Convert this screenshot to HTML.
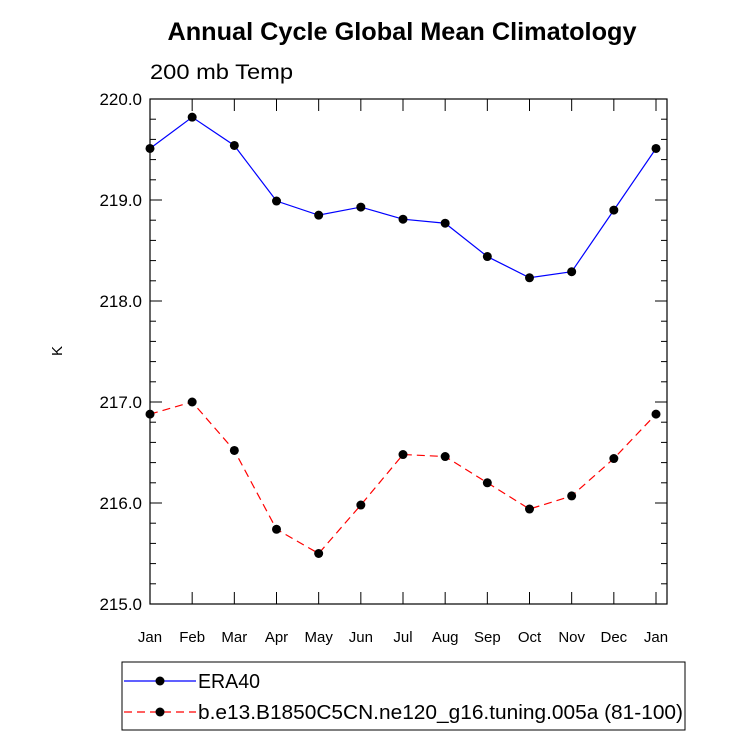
<!DOCTYPE html>
<html><head><meta charset="utf-8"><style>body{margin:0;background:#fff}svg{display:block}text{font-family:"Liberation Sans",sans-serif}</style></head>
<body>
<svg id="c" width="733" height="737"></svg>
<script>
const months=["Jan","Feb","Mar","Apr","May","Jun","Jul","Aug","Sep","Oct","Nov","Dec","Jan"];
const era40=[219.51,219.82,219.54,218.99,218.85,218.93,218.81,218.77,218.44,218.23,218.29,218.90,219.51];
const model=[216.88,217.00,216.52,215.74,215.50,215.98,216.48,216.46,216.20,215.94,216.07,216.44,216.88];
const yTicks=["215.0","216.0","217.0","218.0","219.0","220.0"];
const NS="http://www.w3.org/2000/svg",svg=document.getElementById('c');
const L=150,R=667,T=99,B=604,X0=150,X1=656,yMin=215,yMax=220;
const xs=i=>X0+i*(X1-X0)/12, ys=v=>B-(v-yMin)/(yMax-yMin)*(B-T);
function mk(t,a,p){const e=document.createElementNS(NS,t);for(const k in a)e.setAttribute(k,a[k]);(p||svg).appendChild(e);return e;}
let e;
e=mk('text',{x:402,y:40,'text-anchor':'middle','font-size':25,'font-weight':'bold',textLength:469,lengthAdjust:'spacingAndGlyphs'});e.textContent="Annual Cycle Global Mean Climatology";


e=mk('text',{x:150,y:79,'font-size':21,textLength:143,lengthAdjust:'spacingAndGlyphs'});e.textContent="200 mb Temp";


e=mk('text',{x:0,y:0,'font-size':15,'text-anchor':'middle',transform:'translate(62,351) rotate(-90)'});e.textContent="K";


e=mk('rect',{x:L,y:T,width:R-L,height:B-T,fill:'none',stroke:'#000','stroke-width':1.2});


for(let v=215;v<=220.001;v+=0.2){const y=ys(v);const major=Math.abs(v-Math.round(v))<0.01;const l=major?12:6;
 mk('line',{x1:L,x2:L+l,y1:y,y2:y,stroke:'#000'});mk('line',{x1:R,x2:R-l,y1:y,y2:y,stroke:'#000'});}
yTicks.forEach(t=>{e=mk('text',{x:L-8,y:ys(+t)+6,'text-anchor':'end','font-size':17});e.textContent=t;
 
 });
months.forEach((m,i)=>{const x=xs(i);mk('line',{x1:x,x2:x,y1:B,y2:B-12,stroke:'#000'});mk('line',{x1:x,x2:x,y1:T,y2:T+12,stroke:'#000'});
 e=mk('text',{x:x,y:B+38,'text-anchor':'middle','font-size':15});e.textContent=m;
 
 });
function series(d,col,dash,name){const pts=d.map((v,i)=>xs(i)+','+ys(v)).join(' ');
 e=mk('polyline',{points:pts,fill:'none',stroke:col,'stroke-width':1.2,'stroke-dasharray':dash});
 
 
 d.forEach((v,i)=>{e=mk('circle',{cx:xs(i),cy:ys(v),r:4.5,fill:'#000'});
 
 });}
series(era40,'#00f','none','era40');
series(model,'#f00','8,5','model');
e=mk('rect',{x:122,y:662,width:563,height:68,fill:'none',stroke:'#000'});


[[681,'#00f','none','ERA40',62],[712,'#f00','8,5','b.e13.B1850C5CN.ne120_g16.tuning.005a (81-100)',485]].forEach(([y,c,d,t,w])=>{
 mk('line',{x1:124,x2:196,y1:y,y2:y,stroke:c,'stroke-width':1.2,'stroke-dasharray':d});mk('circle',{cx:160,cy:y,r:4.5,fill:'#000'});
 e=mk('text',{x:198,y:y+7,'font-size':20,textLength:w,lengthAdjust:'spacingAndGlyphs'});e.textContent=t;
 
 });
</script>
</body></html>
